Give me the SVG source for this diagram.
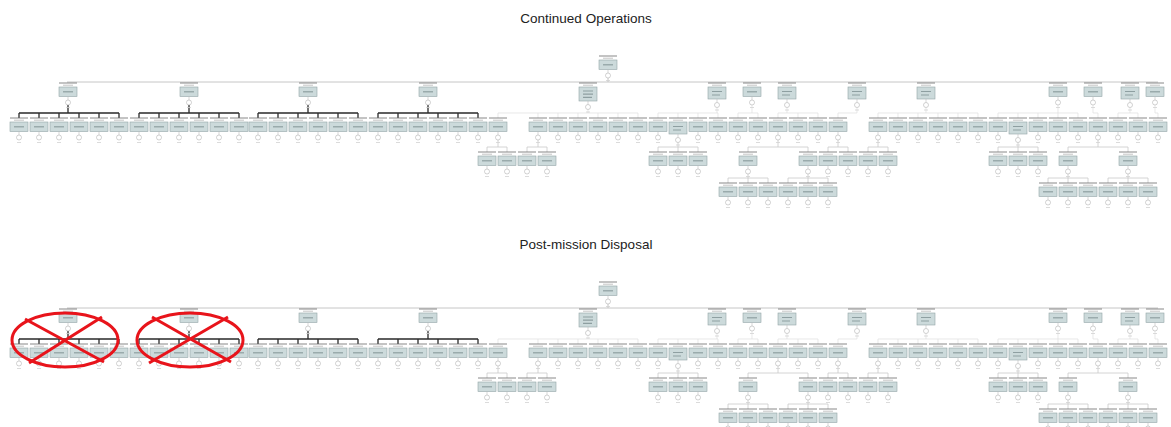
<svg xmlns="http://www.w3.org/2000/svg" xmlns:xlink="http://www.w3.org/1999/xlink" width="1171" height="427" viewBox="0 0 1171 427">
<style>
.title{font-family:"Liberation Sans",Arial,sans-serif;font-size:13.5px;fill:#222;text-anchor:middle}
.lb{fill:#fff}
.lt{stroke:#6a6a6a;stroke-width:.8;fill:none}
.tx{stroke:#c4c4c4;stroke-width:1;fill:none}
.bx{fill:#ccdadb;stroke:#93a5a7;stroke-width:.6}
.tb{stroke:#8e9fa1;stroke-width:1.2;fill:none}
.st{stroke:#bdbdbd;stroke-width:.6;fill:none}
.ev{fill:none;stroke:#b4b4b4;stroke-width:.6}
.tc{stroke:#d2d2d2;stroke-width:.8;fill:none}
.main{stroke:#c6c6c6;stroke-width:1;fill:none}
.dk{stroke:#2a2a2a;stroke-width:1.3;fill:none}
.lc{stroke:#c9c9c9;stroke-width:.8;fill:none}
.lc1{stroke:#dedede;stroke-width:.7;fill:none}
.rx{stroke:#e8141b;stroke-width:3;fill:none}
</style>
<defs>
<g id="lf">
<rect class="lb" x="-9" y="0" width="18" height="4"/><path class="lt" d="M-9 0H9"/><path class="tx" d="M-5 2.2H5"/>
<rect class="bx" x="-9" y="4" width="18" height="9.5"/><path class="tb" d="M-5 8.8H5"/>
<path class="st" d="M0 13.5V17"/><circle class="ev" cx="0" cy="19.5" r="2.5"/><path class="tc" d="M-2 24.5H2"/>
</g>
<g id="lf2">
<rect class="lb" x="-9" y="0" width="18" height="4"/><path class="lt" d="M-9 0H9"/><path class="tx" d="M-5 2.2H5"/>
<rect class="bx" x="-9" y="4" width="18" height="12"/><path class="tb" d="M-5 8.5H5M-5 12H3"/>
<path class="st" d="M0 16V19.5"/><circle class="ev" cx="0" cy="22" r="2.5"/><path class="tc" d="M-2 27H2"/>
</g>
<g id="lf3">
<rect class="lb" x="-9" y="0" width="18" height="4"/><path class="lt" d="M-9 0H9"/><path class="tx" d="M-5 2.2H5"/>
<rect class="bx" x="-9" y="4" width="18" height="14"/><path class="tb" d="M-5 8H5M-5 11.2H5M-5 14.4H4"/>
<path class="st" d="M0 18V21.5"/><circle class="ev" cx="0" cy="24" r="2.5"/><path class="tc" d="M-2 29H2"/>
</g>
</defs>
<rect width="1171" height="427" fill="#fff"/>
<text class="title" x="586" y="23">Continued Operations</text>
<text class="title" x="586" y="249">Post-mission Disposal</text>

<g id="co-tree">
<g id="co-connectors">
<path class="main" d="M608 78V82M67 82H1158"/>
<path class="dk" d="M68 105V113M19 113H119M19 113V118M39 113V118M59 113V118M79 113V118M99 113V118M119 113V118M189 105V113M139 113H239M139 113V118M159 113V118M179 113V118M199 113V118M219 113V118M239 113V118M308 105V113M258 113H358M258 113V118M278 113V118M298 113V118M318 113V118M338 113V118M358 113V118M428 105V113M378 113H478M378 113V118M398 113V118M418 113V118M438 113V118M458 113V118M478 113V118"/>
<path class="lc1" d="M588 109.5V113M498 113H638M498 113V118M538 113V118M558 113V118M578 113V118M598 113V118M618 113V118M638 113V118M717 107.5V113M658 113H718M658 113V118M678 113V118M698 113V118M718 113V118M752 105V113M738 113H758M738 113V118M758 113V118M787 107.5V113M778 113H818M778 113V118M798 113V118M818 113V118M857 107.5V113H838V118M926 107.5V113M878 113H978M878 113V118M898 113V118M918 113V118M938 113V118M958 113V118M978 113V118M1058 105V113M998 113H1078M998 113V118M1018 113V118M1038 113V118M1058 113V118M1078 113V118M1093 105V113H1098V118M1130 107.5V113M1118 113H1138M1118 113V118M1138 113V118M1155 105V113H1158V118"/>
<path class="lc" d="M498 140V147M487 147H507M487 147V152M507 147V152M538 140V147M527 147H547M527 147V152M547 147V152M678 142.5V147M658 147H698M658 147V152M678 147V152M698 147V152M778 140V147M748 147H808M748 147V152M808 147V152M838 140V147M828 147H848M828 147V152M848 147V152M878 140V147M868 147H888M868 147V152M888 147V152M1018 142.5V147M998 147H1038M998 147V152M1018 147V152M1038 147V152M1098 140V147M1068 147H1128M1068 147V152M1128 147V152"/>
<path class="lc" d="M748 174V178M728 178H768M728 178V183M748 178V183M768 178V183M808 174V178M788 178H828M788 178V183M808 178V183M828 178V183M1068 174V178M1048 178H1088M1048 178V183M1068 178V183M1088 178V183M1128 174V178M1108 178H1148M1108 178V183M1128 178V183M1148 178V183"/>
</g>
<g id="co-top"><use href="#lf" x="608" y="56"/></g>
<g id="co-l1-1"><use href="#lf" x="68" y="83"/></g>
<g id="co-l1-2"><use href="#lf" x="189" y="83"/></g>
<g id="co-l1-3"><use href="#lf" x="308" y="83"/></g>
<g id="co-l1-4"><use href="#lf" x="428" y="83"/></g>
<g id="co-l1-5"><use href="#lf3" x="588" y="83"/></g>
<g id="co-l1-6"><use href="#lf2" x="717" y="83"/></g>
<g id="co-l1-7"><use href="#lf" x="752" y="83"/></g>
<g id="co-l1-8"><use href="#lf2" x="787" y="83"/></g>
<g id="co-l1-9"><use href="#lf2" x="857" y="83"/></g>
<g id="co-l1-10"><use href="#lf2" x="926" y="83"/></g>
<g id="co-l1-11"><use href="#lf" x="1058" y="83"/></g>
<g id="co-l1-12"><use href="#lf" x="1093" y="83"/></g>
<g id="co-l1-13"><use href="#lf2" x="1130" y="83"/></g>
<g id="co-l1-14"><use href="#lf" x="1155" y="83"/></g>
<g id="co-r2-19"><use href="#lf" x="19" y="118"/></g>
<g id="co-r2-39"><use href="#lf" x="39" y="118"/></g>
<g id="co-r2-59"><use href="#lf" x="59" y="118"/></g>
<g id="co-r2-79"><use href="#lf" x="79" y="118"/></g>
<g id="co-r2-99"><use href="#lf" x="99" y="118"/></g>
<g id="co-r2-119"><use href="#lf" x="119" y="118"/></g>
<g id="co-r2-139"><use href="#lf" x="139" y="118"/></g>
<g id="co-r2-159"><use href="#lf" x="159" y="118"/></g>
<g id="co-r2-179"><use href="#lf" x="179" y="118"/></g>
<g id="co-r2-199"><use href="#lf" x="199" y="118"/></g>
<g id="co-r2-219"><use href="#lf" x="219" y="118"/></g>
<g id="co-r2-239"><use href="#lf" x="239" y="118"/></g>
<g id="co-r2-258"><use href="#lf" x="258" y="118"/></g>
<g id="co-r2-278"><use href="#lf" x="278" y="118"/></g>
<g id="co-r2-298"><use href="#lf" x="298" y="118"/></g>
<g id="co-r2-318"><use href="#lf" x="318" y="118"/></g>
<g id="co-r2-338"><use href="#lf" x="338" y="118"/></g>
<g id="co-r2-358"><use href="#lf" x="358" y="118"/></g>
<g id="co-r2-378"><use href="#lf" x="378" y="118"/></g>
<g id="co-r2-398"><use href="#lf" x="398" y="118"/></g>
<g id="co-r2-418"><use href="#lf" x="418" y="118"/></g>
<g id="co-r2-438"><use href="#lf" x="438" y="118"/></g>
<g id="co-r2-458"><use href="#lf" x="458" y="118"/></g>
<g id="co-r2-478"><use href="#lf" x="478" y="118"/></g>
<g id="co-r2-498"><use href="#lf" x="498" y="118"/></g>
<g id="co-r2-538"><use href="#lf" x="538" y="118"/></g>
<g id="co-r2-558"><use href="#lf" x="558" y="118"/></g>
<g id="co-r2-578"><use href="#lf" x="578" y="118"/></g>
<g id="co-r2-598"><use href="#lf" x="598" y="118"/></g>
<g id="co-r2-618"><use href="#lf" x="618" y="118"/></g>
<g id="co-r2-638"><use href="#lf" x="638" y="118"/></g>
<g id="co-r2-658"><use href="#lf" x="658" y="118"/></g>
<g id="co-r2-678"><use href="#lf2" x="678" y="118"/></g>
<g id="co-r2-698"><use href="#lf" x="698" y="118"/></g>
<g id="co-r2-718"><use href="#lf" x="718" y="118"/></g>
<g id="co-r2-738"><use href="#lf" x="738" y="118"/></g>
<g id="co-r2-758"><use href="#lf" x="758" y="118"/></g>
<g id="co-r2-778"><use href="#lf" x="778" y="118"/></g>
<g id="co-r2-798"><use href="#lf" x="798" y="118"/></g>
<g id="co-r2-818"><use href="#lf" x="818" y="118"/></g>
<g id="co-r2-838"><use href="#lf" x="838" y="118"/></g>
<g id="co-r2-878"><use href="#lf" x="878" y="118"/></g>
<g id="co-r2-898"><use href="#lf" x="898" y="118"/></g>
<g id="co-r2-918"><use href="#lf" x="918" y="118"/></g>
<g id="co-r2-938"><use href="#lf" x="938" y="118"/></g>
<g id="co-r2-958"><use href="#lf" x="958" y="118"/></g>
<g id="co-r2-978"><use href="#lf" x="978" y="118"/></g>
<g id="co-r2-998"><use href="#lf" x="998" y="118"/></g>
<g id="co-r2-1018"><use href="#lf2" x="1018" y="118"/></g>
<g id="co-r2-1038"><use href="#lf" x="1038" y="118"/></g>
<g id="co-r2-1058"><use href="#lf" x="1058" y="118"/></g>
<g id="co-r2-1078"><use href="#lf" x="1078" y="118"/></g>
<g id="co-r2-1098"><use href="#lf" x="1098" y="118"/></g>
<g id="co-r2-1118"><use href="#lf" x="1118" y="118"/></g>
<g id="co-r2-1138"><use href="#lf" x="1138" y="118"/></g>
<g id="co-r2-1158"><use href="#lf" x="1158" y="118"/></g>
<g id="co-r3-487"><use href="#lf" x="487" y="152"/></g>
<g id="co-r3-507"><use href="#lf" x="507" y="152"/></g>
<g id="co-r3-527"><use href="#lf" x="527" y="152"/></g>
<g id="co-r3-547"><use href="#lf" x="547" y="152"/></g>
<g id="co-r3-658"><use href="#lf" x="658" y="152"/></g>
<g id="co-r3-678"><use href="#lf" x="678" y="152"/></g>
<g id="co-r3-698"><use href="#lf" x="698" y="152"/></g>
<g id="co-r3-748"><use href="#lf" x="748" y="152"/></g>
<g id="co-r3-808"><use href="#lf" x="808" y="152"/></g>
<g id="co-r3-828"><use href="#lf" x="828" y="152"/></g>
<g id="co-r3-848"><use href="#lf" x="848" y="152"/></g>
<g id="co-r3-868"><use href="#lf" x="868" y="152"/></g>
<g id="co-r3-888"><use href="#lf" x="888" y="152"/></g>
<g id="co-r3-998"><use href="#lf" x="998" y="152"/></g>
<g id="co-r3-1018"><use href="#lf" x="1018" y="152"/></g>
<g id="co-r3-1038"><use href="#lf" x="1038" y="152"/></g>
<g id="co-r3-1068"><use href="#lf" x="1068" y="152"/></g>
<g id="co-r3-1128"><use href="#lf" x="1128" y="152"/></g>
<g id="co-r4-728"><use href="#lf" x="728" y="183"/></g>
<g id="co-r4-748"><use href="#lf" x="748" y="183"/></g>
<g id="co-r4-768"><use href="#lf" x="768" y="183"/></g>
<g id="co-r4-788"><use href="#lf" x="788" y="183"/></g>
<g id="co-r4-808"><use href="#lf" x="808" y="183"/></g>
<g id="co-r4-828"><use href="#lf" x="828" y="183"/></g>
<g id="co-r4-1048"><use href="#lf" x="1048" y="183"/></g>
<g id="co-r4-1068"><use href="#lf" x="1068" y="183"/></g>
<g id="co-r4-1088"><use href="#lf" x="1088" y="183"/></g>
<g id="co-r4-1108"><use href="#lf" x="1108" y="183"/></g>
<g id="co-r4-1128"><use href="#lf" x="1128" y="183"/></g>
<g id="co-r4-1148"><use href="#lf" x="1148" y="183"/></g>
</g>

<g id="pmd-tree" transform="translate(0,226)">
<g id="pmd-connectors">
<path class="main" d="M608 78V82M67 82H1158"/>
<path class="dk" d="M68 105V113M19 113H119M19 113V118M39 113V118M59 113V118M79 113V118M99 113V118M119 113V118M189 105V113M139 113H239M139 113V118M159 113V118M179 113V118M199 113V118M219 113V118M239 113V118M308 105V113M258 113H358M258 113V118M278 113V118M298 113V118M318 113V118M338 113V118M358 113V118M428 105V113M378 113H478M378 113V118M398 113V118M418 113V118M438 113V118M458 113V118M478 113V118"/>
<path class="lc1" d="M588 109.5V113M498 113H638M498 113V118M538 113V118M558 113V118M578 113V118M598 113V118M618 113V118M638 113V118M717 107.5V113M658 113H718M658 113V118M678 113V118M698 113V118M718 113V118M752 105V113M738 113H758M738 113V118M758 113V118M787 107.5V113M778 113H818M778 113V118M798 113V118M818 113V118M857 107.5V113H838V118M926 107.5V113M878 113H978M878 113V118M898 113V118M918 113V118M938 113V118M958 113V118M978 113V118M1058 105V113M998 113H1078M998 113V118M1018 113V118M1038 113V118M1058 113V118M1078 113V118M1093 105V113H1098V118M1130 107.5V113M1118 113H1138M1118 113V118M1138 113V118M1155 105V113H1158V118"/>
<path class="lc" d="M498 140V147M487 147H507M487 147V152M507 147V152M538 140V147M527 147H547M527 147V152M547 147V152M678 142.5V147M658 147H698M658 147V152M678 147V152M698 147V152M778 140V147M748 147H808M748 147V152M808 147V152M838 140V147M828 147H848M828 147V152M848 147V152M878 140V147M868 147H888M868 147V152M888 147V152M1018 142.5V147M998 147H1038M998 147V152M1018 147V152M1038 147V152M1098 140V147M1068 147H1128M1068 147V152M1128 147V152"/>
<path class="lc" d="M748 174V178M728 178H768M728 178V183M748 178V183M768 178V183M808 174V178M788 178H828M788 178V183M808 178V183M828 178V183M1068 174V178M1048 178H1088M1048 178V183M1068 178V183M1088 178V183M1128 174V178M1108 178H1148M1108 178V183M1128 178V183M1148 178V183"/>
</g>
<g id="pmd-top"><use href="#lf" x="608" y="56"/></g>
<g id="pmd-l1-1"><use href="#lf" x="68" y="83"/></g>
<g id="pmd-l1-2"><use href="#lf" x="189" y="83"/></g>
<g id="pmd-l1-3"><use href="#lf" x="308" y="83"/></g>
<g id="pmd-l1-4"><use href="#lf" x="428" y="83"/></g>
<g id="pmd-l1-5"><use href="#lf3" x="588" y="83"/></g>
<g id="pmd-l1-6"><use href="#lf2" x="717" y="83"/></g>
<g id="pmd-l1-7"><use href="#lf" x="752" y="83"/></g>
<g id="pmd-l1-8"><use href="#lf2" x="787" y="83"/></g>
<g id="pmd-l1-9"><use href="#lf2" x="857" y="83"/></g>
<g id="pmd-l1-10"><use href="#lf2" x="926" y="83"/></g>
<g id="pmd-l1-11"><use href="#lf" x="1058" y="83"/></g>
<g id="pmd-l1-12"><use href="#lf" x="1093" y="83"/></g>
<g id="pmd-l1-13"><use href="#lf2" x="1130" y="83"/></g>
<g id="pmd-l1-14"><use href="#lf" x="1155" y="83"/></g>
<g id="pmd-r2-19"><use href="#lf" x="19" y="118"/></g>
<g id="pmd-r2-39"><use href="#lf" x="39" y="118"/></g>
<g id="pmd-r2-59"><use href="#lf" x="59" y="118"/></g>
<g id="pmd-r2-79"><use href="#lf" x="79" y="118"/></g>
<g id="pmd-r2-99"><use href="#lf" x="99" y="118"/></g>
<g id="pmd-r2-119"><use href="#lf" x="119" y="118"/></g>
<g id="pmd-r2-139"><use href="#lf" x="139" y="118"/></g>
<g id="pmd-r2-159"><use href="#lf" x="159" y="118"/></g>
<g id="pmd-r2-179"><use href="#lf" x="179" y="118"/></g>
<g id="pmd-r2-199"><use href="#lf" x="199" y="118"/></g>
<g id="pmd-r2-219"><use href="#lf" x="219" y="118"/></g>
<g id="pmd-r2-239"><use href="#lf" x="239" y="118"/></g>
<g id="pmd-r2-258"><use href="#lf" x="258" y="118"/></g>
<g id="pmd-r2-278"><use href="#lf" x="278" y="118"/></g>
<g id="pmd-r2-298"><use href="#lf" x="298" y="118"/></g>
<g id="pmd-r2-318"><use href="#lf" x="318" y="118"/></g>
<g id="pmd-r2-338"><use href="#lf" x="338" y="118"/></g>
<g id="pmd-r2-358"><use href="#lf" x="358" y="118"/></g>
<g id="pmd-r2-378"><use href="#lf" x="378" y="118"/></g>
<g id="pmd-r2-398"><use href="#lf" x="398" y="118"/></g>
<g id="pmd-r2-418"><use href="#lf" x="418" y="118"/></g>
<g id="pmd-r2-438"><use href="#lf" x="438" y="118"/></g>
<g id="pmd-r2-458"><use href="#lf" x="458" y="118"/></g>
<g id="pmd-r2-478"><use href="#lf" x="478" y="118"/></g>
<g id="pmd-r2-498"><use href="#lf" x="498" y="118"/></g>
<g id="pmd-r2-538"><use href="#lf" x="538" y="118"/></g>
<g id="pmd-r2-558"><use href="#lf" x="558" y="118"/></g>
<g id="pmd-r2-578"><use href="#lf" x="578" y="118"/></g>
<g id="pmd-r2-598"><use href="#lf" x="598" y="118"/></g>
<g id="pmd-r2-618"><use href="#lf" x="618" y="118"/></g>
<g id="pmd-r2-638"><use href="#lf" x="638" y="118"/></g>
<g id="pmd-r2-658"><use href="#lf" x="658" y="118"/></g>
<g id="pmd-r2-678"><use href="#lf2" x="678" y="118"/></g>
<g id="pmd-r2-698"><use href="#lf" x="698" y="118"/></g>
<g id="pmd-r2-718"><use href="#lf" x="718" y="118"/></g>
<g id="pmd-r2-738"><use href="#lf" x="738" y="118"/></g>
<g id="pmd-r2-758"><use href="#lf" x="758" y="118"/></g>
<g id="pmd-r2-778"><use href="#lf" x="778" y="118"/></g>
<g id="pmd-r2-798"><use href="#lf" x="798" y="118"/></g>
<g id="pmd-r2-818"><use href="#lf" x="818" y="118"/></g>
<g id="pmd-r2-838"><use href="#lf" x="838" y="118"/></g>
<g id="pmd-r2-878"><use href="#lf" x="878" y="118"/></g>
<g id="pmd-r2-898"><use href="#lf" x="898" y="118"/></g>
<g id="pmd-r2-918"><use href="#lf" x="918" y="118"/></g>
<g id="pmd-r2-938"><use href="#lf" x="938" y="118"/></g>
<g id="pmd-r2-958"><use href="#lf" x="958" y="118"/></g>
<g id="pmd-r2-978"><use href="#lf" x="978" y="118"/></g>
<g id="pmd-r2-998"><use href="#lf" x="998" y="118"/></g>
<g id="pmd-r2-1018"><use href="#lf2" x="1018" y="118"/></g>
<g id="pmd-r2-1038"><use href="#lf" x="1038" y="118"/></g>
<g id="pmd-r2-1058"><use href="#lf" x="1058" y="118"/></g>
<g id="pmd-r2-1078"><use href="#lf" x="1078" y="118"/></g>
<g id="pmd-r2-1098"><use href="#lf" x="1098" y="118"/></g>
<g id="pmd-r2-1118"><use href="#lf" x="1118" y="118"/></g>
<g id="pmd-r2-1138"><use href="#lf" x="1138" y="118"/></g>
<g id="pmd-r2-1158"><use href="#lf" x="1158" y="118"/></g>
<g id="pmd-r3-487"><use href="#lf" x="487" y="152"/></g>
<g id="pmd-r3-507"><use href="#lf" x="507" y="152"/></g>
<g id="pmd-r3-527"><use href="#lf" x="527" y="152"/></g>
<g id="pmd-r3-547"><use href="#lf" x="547" y="152"/></g>
<g id="pmd-r3-658"><use href="#lf" x="658" y="152"/></g>
<g id="pmd-r3-678"><use href="#lf" x="678" y="152"/></g>
<g id="pmd-r3-698"><use href="#lf" x="698" y="152"/></g>
<g id="pmd-r3-748"><use href="#lf" x="748" y="152"/></g>
<g id="pmd-r3-808"><use href="#lf" x="808" y="152"/></g>
<g id="pmd-r3-828"><use href="#lf" x="828" y="152"/></g>
<g id="pmd-r3-848"><use href="#lf" x="848" y="152"/></g>
<g id="pmd-r3-868"><use href="#lf" x="868" y="152"/></g>
<g id="pmd-r3-888"><use href="#lf" x="888" y="152"/></g>
<g id="pmd-r3-998"><use href="#lf" x="998" y="152"/></g>
<g id="pmd-r3-1018"><use href="#lf" x="1018" y="152"/></g>
<g id="pmd-r3-1038"><use href="#lf" x="1038" y="152"/></g>
<g id="pmd-r3-1068"><use href="#lf" x="1068" y="152"/></g>
<g id="pmd-r3-1128"><use href="#lf" x="1128" y="152"/></g>
<g id="pmd-r4-728"><use href="#lf" x="728" y="183"/></g>
<g id="pmd-r4-748"><use href="#lf" x="748" y="183"/></g>
<g id="pmd-r4-768"><use href="#lf" x="768" y="183"/></g>
<g id="pmd-r4-788"><use href="#lf" x="788" y="183"/></g>
<g id="pmd-r4-808"><use href="#lf" x="808" y="183"/></g>
<g id="pmd-r4-828"><use href="#lf" x="828" y="183"/></g>
<g id="pmd-r4-1048"><use href="#lf" x="1048" y="183"/></g>
<g id="pmd-r4-1068"><use href="#lf" x="1068" y="183"/></g>
<g id="pmd-r4-1088"><use href="#lf" x="1088" y="183"/></g>
<g id="pmd-r4-1108"><use href="#lf" x="1108" y="183"/></g>
<g id="pmd-r4-1128"><use href="#lf" x="1128" y="183"/></g>
<g id="pmd-r4-1148"><use href="#lf" x="1148" y="183"/></g>
</g>

<g id="cross-1">
<ellipse class="rx" cx="65" cy="340" rx="53" ry="27"/>
<path class="rx" d="M25 319L104 362M102 317L29 363"/>
</g>
<g id="cross-2">
<ellipse class="rx" cx="190" cy="340" rx="53" ry="27"/>
<path class="rx" d="M152 317L231 362M228 317L149 363"/>
</g>
</svg>
